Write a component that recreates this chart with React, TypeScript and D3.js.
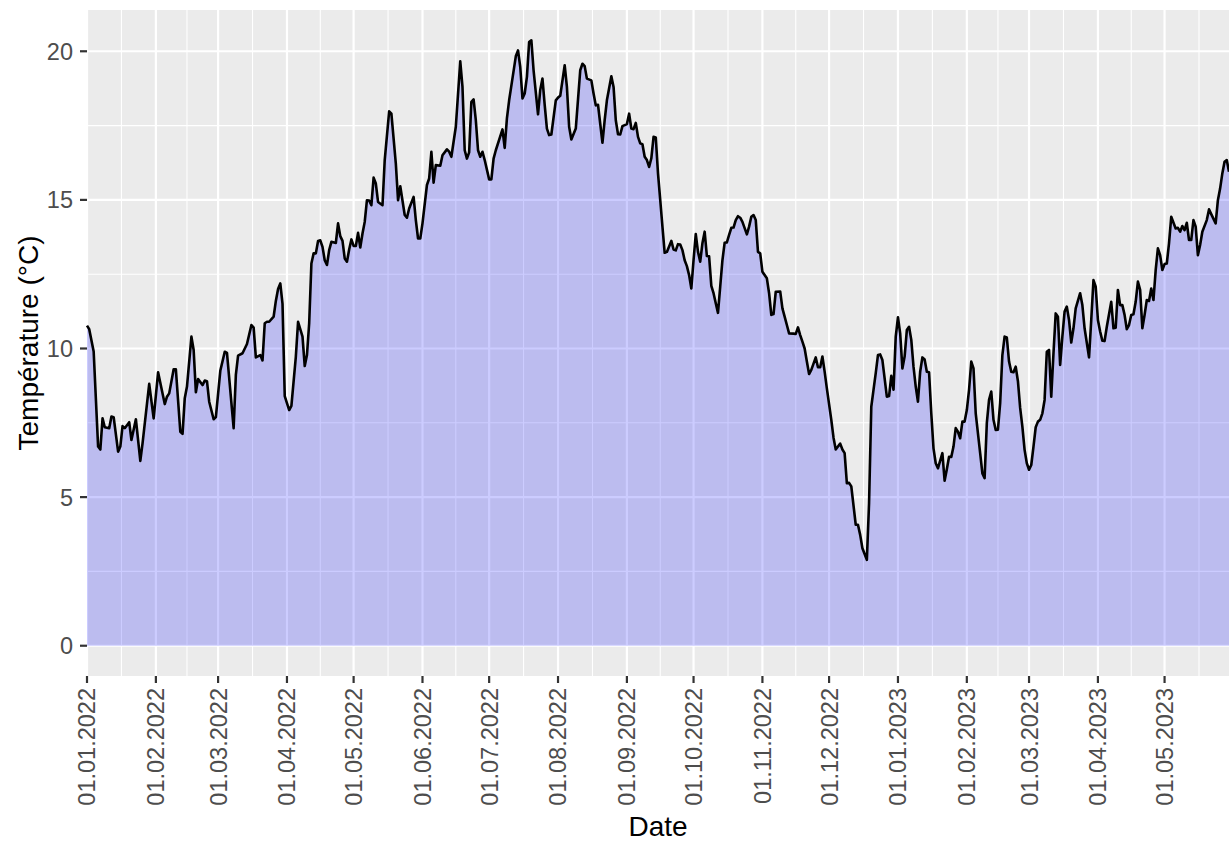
import { useEffect, useRef } from 'react';
import * as d3 from 'd3';

// Daily mean temperature (day index counted from startDate)
const startDate = new Date(2022, 0, 1);
const lastDay = 514;

const dayIndex = [
  0, 1, 3, 5, 6, 7, 8, 10, 11, 12, 14, 15, 16, 17, 19, 20, 22, 24, 25, 28,
  30, 32, 35, 36, 37, 39, 40, 42, 43, 44, 45, 47, 48, 49, 50, 52, 53, 54, 55, 57,
  58, 60, 62, 63, 66, 67, 68, 70, 72, 74, 75, 76, 78, 79, 80, 81, 82, 84, 85, 86,
  87, 88, 89, 91, 92, 94, 95, 97, 98, 99, 100, 101, 102, 103, 104, 105, 106, 107, 108, 109,
  110, 112, 113, 114, 115, 116, 117, 118, 119, 120, 121, 122, 123, 124, 125, 126, 127, 128, 129, 130,
  131, 133, 134, 136, 137, 139, 140, 141, 143, 144, 145, 147, 148, 149, 150, 151, 153, 154, 155, 156,
  157, 159, 160, 162, 163, 164, 166, 168, 169, 170, 171, 172, 173, 174, 175, 176, 177, 178, 179, 181,
  182, 183, 184, 187, 188, 189, 190, 193, 194, 195, 196, 197, 198, 199, 200, 201, 203, 204, 205, 206,
  207, 208, 209, 211, 212, 213, 215, 216, 217, 218, 220, 222, 223, 224, 225, 227, 228, 229, 230, 232,
  233, 234, 236, 237, 238, 239, 240, 241, 243, 244, 245, 246, 247, 248, 249, 250, 251, 252, 253, 254,
  255, 256, 257, 258, 259, 260, 261, 263, 264, 265, 266, 267, 268, 269, 270, 271, 272, 273, 274, 275,
  276, 277, 278, 279, 280, 281, 282, 283, 284, 285, 286, 287, 288, 289, 290, 291, 292, 293, 294, 295,
  297, 298, 299, 300, 301, 302, 303, 304, 306, 307, 308, 309, 310, 312, 313, 314, 315, 316, 318, 319,
  320, 321, 322, 323, 324, 325, 326, 328, 329, 330, 331, 332, 333, 335, 336, 337, 338, 339, 340, 341,
  342, 343, 344, 346, 347, 348, 349, 351, 352, 353, 354, 355, 356, 357, 358, 360, 361, 362, 363, 364,
  365, 366, 367, 368, 369, 370, 371, 372, 373, 374, 375, 376, 377, 378, 379, 380, 381, 382, 383, 385,
  386, 387, 388, 389, 390, 391, 392, 393, 394, 395, 396, 397, 398, 399, 400, 402, 403, 404, 405, 406,
  407, 408, 409, 410, 411, 412, 413, 414, 415, 416, 417, 418, 419, 420, 421, 422, 423, 424, 425, 426,
  427, 428, 429, 430, 431, 432, 433, 434, 435, 436, 437, 438, 439, 440, 441, 442, 443, 444, 445, 447,
  448, 449, 451, 452, 453, 454, 455, 456, 457, 458, 459, 461, 462, 463, 464, 465, 466, 467, 468, 469,
  470, 471, 472, 473, 474, 475, 476, 477, 478, 479, 480, 481, 482, 483, 484, 485, 486, 487, 488, 490,
  491, 492, 493, 494, 495, 496, 497, 498, 499, 500, 501, 502, 504, 505, 506, 508, 509, 510, 511, 512,
  513, 514,
];

const temps = [
  10.77, 10.65, 9.9, 6.7, 6.6, 7.65, 7.35, 7.32, 7.71, 7.69, 6.53, 6.7, 7.39, 7.32, 7.52, 6.92, 7.62, 6.22, 6.81, 8.81,
  7.65, 9.2, 8.13, 8.38, 8.49, 9.3, 9.3, 7.2, 7.13, 8.33, 8.72, 10.4, 9.95, 8.53, 8.97, 8.77, 8.92, 8.9, 8.21, 7.62,
  7.69, 9.25, 9.89, 9.85, 7.32, 9.11, 9.76, 9.84, 10.15, 10.79, 10.7, 9.7, 9.78, 9.6, 10.85, 10.9, 10.9, 11.07, 11.6, 12.0,
  12.19, 11.5, 8.4, 7.93, 8.07, 9.73, 10.9, 10.4, 9.41, 9.78, 10.85, 12.86, 13.2, 13.2, 13.62, 13.64, 13.42, 12.97, 12.81, 13.31,
  13.59, 13.55, 14.21, 13.78, 13.62, 13.03, 12.92, 13.33, 13.67, 13.45, 13.45, 13.89, 13.4, 13.87, 14.26, 14.99, 14.98, 14.82, 15.75, 15.55,
  14.93, 14.82, 16.34, 17.98, 17.9, 16.22, 14.99, 15.46, 14.49, 14.4, 14.71, 15.1, 14.32, 13.7, 13.7, 14.21, 15.5, 15.72, 16.62, 15.58,
  16.17, 16.15, 16.5, 16.7, 16.62, 16.45, 17.46, 19.66, 18.8, 16.67, 16.39, 16.6, 18.3, 18.38, 17.68, 16.67, 16.45, 16.62, 16.34, 15.69,
  15.69, 16.39, 16.67, 17.37, 16.75, 17.74, 18.35, 19.83, 20.03, 19.47, 18.41, 18.58, 19.14, 20.31, 20.37, 19.36, 17.88, 18.7, 19.08, 18.2,
  17.4, 17.18, 17.2, 18.35, 18.44, 18.5, 19.53, 18.8, 17.46, 17.03, 17.4, 19.36, 19.58, 19.5, 19.08, 19.02, 18.58, 18.18, 18.2, 16.92,
  17.68, 18.35, 19.16, 18.8, 17.68, 17.21, 17.2, 17.48, 17.55, 17.9, 17.4, 17.38, 17.59, 17.12, 16.9, 16.87, 16.45, 16.34, 16.11, 16.4,
  17.12, 17.1, 15.89, 15.0, 14.1, 13.22, 13.25, 13.62, 13.33, 13.3, 13.51, 13.5, 13.31, 12.97, 12.77, 12.47, 12.02, 12.97, 13.85, 13.25,
  12.92, 13.54, 13.93, 13.11, 13.1, 12.11, 11.86, 11.52, 11.2, 12.08, 12.97, 13.56, 13.57, 13.82, 14.06, 14.07, 14.32, 14.45, 14.4, 14.26,
  13.84, 14.1, 14.43, 14.49, 14.32, 13.25, 13.2, 12.58, 12.36, 11.86, 11.13, 11.16, 11.91, 11.92, 11.35, 11.07, 10.79, 10.51, 10.5, 10.49,
  10.71, 10.45, 10.23, 10.0, 9.56, 9.14, 9.28, 9.7, 9.37, 9.37, 9.73, 9.22, 8.66, 7.6, 7.0, 6.6, 6.7, 6.8, 6.6, 6.48,
  5.47, 5.48, 5.36, 4.07, 4.07, 3.73, 3.28, 2.89, 4.8, 8.04, 8.61, 9.17, 9.78, 9.8, 9.61, 8.38, 8.4, 9.08, 8.61, 10.4,
  11.05, 10.51, 9.33, 9.73, 10.62, 10.73, 10.29, 9.39, 8.72, 8.21, 9.22, 9.7, 9.63, 9.22, 9.2, 7.82, 6.64, 6.14, 5.97, 6.48,
  5.55, 5.94, 6.36, 6.35, 6.7, 7.32, 7.2, 6.98, 7.54, 7.54, 7.93, 8.61, 9.56, 9.33, 7.82, 6.48, 5.8, 5.64, 7.49, 8.27,
  8.55, 7.6, 7.26, 7.27, 8.16, 9.78, 10.4, 10.37, 9.56, 9.22, 9.2, 9.39, 8.9, 8.0, 7.37, 6.59, 6.14, 5.92, 6.08, 6.7,
  7.35, 7.54, 7.6, 7.82, 8.27, 9.89, 9.95, 8.38, 9.84, 11.18, 11.07, 9.45, 10.4, 11.24, 11.41, 10.96, 10.2, 10.68, 11.35, 11.86,
  11.46, 10.68, 9.7, 10.96, 12.3, 12.08, 10.96, 10.57, 10.26, 10.25, 10.73, 11.57, 10.68, 10.7, 11.97, 11.46, 11.46, 11.13, 10.65, 10.79,
  11.13, 11.15, 11.57, 12.25, 11.97, 10.68, 11.13, 11.63, 11.6, 12.02, 11.63, 12.64, 13.37, 13.14, 12.64, 12.84, 12.86, 13.54, 14.43, 14.04,
  14.06, 13.93, 14.12, 13.98, 14.23, 13.65, 13.65, 14.32, 14.1, 13.14, 13.48, 13.93, 14.32, 14.68, 14.52, 14.21, 14.99, 15.38, 15.89, 16.28,
  16.34, 15.95,
];

const yTicks = [0, 5, 10, 15, 20];
const yMinorTicks = [2.5, 7.5, 12.5, 17.5];
const xTitle = 'Date';
const yTitle = 'Température (°C)';

interface Point {
  date: Date;
  value: number;
}

const WIDTH = 1229;
const HEIGHT = 843;
const FONT = '"Liberation Sans", Arial, Helvetica, sans-serif';

export default function App() {
  const svgRef = useRef<SVGSVGElement>(null);

  useEffect(() => {
    if (!svgRef.current) return;
    const svg = d3.select(svgRef.current);
    svg.selectAll('*').remove();

    const data: Point[] = dayIndex.map((d, i) => ({
      date: d3.timeDay.offset(startDate, d),
      value: temps[i],
    }));

    const panel = { left: 87, right: WIDTH, top: 10, bottom: 676 };

    // ggplot-like 5% expansion on y, none on x
    const maxT = d3.max(temps) || 0;
    const pad = maxT * 0.05;
    const endDate = d3.timeDay.offset(startDate, lastDay);

    const x = d3.scaleTime()
      .domain([startDate, endDate])
      .range([panel.left, panel.right]);

    const y = d3.scaleLinear()
      .domain([-pad, maxT + pad])
      .range([panel.bottom, panel.top]);

    // Panel background
    svg.append('rect')
      .attr('x', panel.left)
      .attr('y', panel.top)
      .attr('width', panel.right - panel.left)
      .attr('height', panel.bottom - panel.top)
      .attr('fill', '#EBEBEB');

    // Breaks
    const majorX = d3.timeMonth.range(startDate, d3.timeDay.offset(endDate, 1));
    const extended = d3.timeMonth.range(startDate, d3.timeMonth.offset(endDate, 2));
    const minorX: Date[] = [];
    for (let i = 0; i < extended.length - 1; i++) {
      const mid = new Date((extended[i].getTime() + extended[i + 1].getTime()) / 2);
      if (mid >= startDate && mid <= endDate) minorX.push(mid);
    }

    const grid = svg.append('g');

    grid.selectAll('.minor-y')
      .data(yMinorTicks)
      .join('line')
      .attr('x1', panel.left)
      .attr('x2', panel.right)
      .attr('y1', d => y(d))
      .attr('y2', d => y(d))
      .attr('stroke', '#fff')
      .attr('stroke-width', 1.1);

    grid.selectAll('.minor-x')
      .data(minorX)
      .join('line')
      .attr('x1', d => x(d))
      .attr('x2', d => x(d))
      .attr('y1', panel.top)
      .attr('y2', panel.bottom)
      .attr('stroke', '#fff')
      .attr('stroke-width', 1.1);

    grid.selectAll('.major-y')
      .data(yTicks)
      .join('line')
      .attr('x1', panel.left)
      .attr('x2', panel.right)
      .attr('y1', d => y(d))
      .attr('y2', d => y(d))
      .attr('stroke', '#fff')
      .attr('stroke-width', 2.2);

    grid.selectAll('.major-x')
      .data(majorX)
      .join('line')
      .attr('x1', d => x(d))
      .attr('x2', d => x(d))
      .attr('y1', panel.top)
      .attr('y2', panel.bottom)
      .attr('stroke', '#fff')
      .attr('stroke-width', 2.2);

    // Area + line
    const area = d3.area<Point>()
      .x(d => x(d.date))
      .y0(y(0))
      .y1(d => y(d.value));

    const line = d3.line<Point>()
      .x(d => x(d.date))
      .y(d => y(d.value));

    svg.append('path')
      .datum(data)
      .attr('fill', 'blue')
      .attr('fill-opacity', 0.2)
      .attr('d', area);

    svg.append('path')
      .datum(data)
      .attr('fill', 'none')
      .attr('stroke', '#000')
      .attr('stroke-width', 2.6)
      .attr('stroke-linejoin', 'round')
      .attr('d', line);

    // Y axis
    const yAxis = svg.append('g');
    yAxis.selectAll('line')
      .data(yTicks)
      .join('line')
      .attr('x1', panel.left - 7)
      .attr('x2', panel.left)
      .attr('y1', d => y(d))
      .attr('y2', d => y(d))
      .attr('stroke', '#333333')
      .attr('stroke-width', 2.2);

    yAxis.selectAll('text')
      .data(yTicks)
      .join('text')
      .attr('x', panel.left - 14)
      .attr('y', d => y(d))
      .attr('dy', '0.36em')
      .attr('text-anchor', 'end')
      .attr('font-family', FONT)
      .attr('font-size', 23.5)
      .attr('fill', '#4D4D4D')
      .text(d => d3.format('d')(d));

    // X axis
    const fmt = d3.timeFormat('%d.%m.%Y');
    const xAxis = svg.append('g');
    xAxis.selectAll('line')
      .data(majorX)
      .join('line')
      .attr('x1', d => x(d))
      .attr('x2', d => x(d))
      .attr('y1', panel.bottom)
      .attr('y2', panel.bottom + 7)
      .attr('stroke', '#333333')
      .attr('stroke-width', 2.2);

    xAxis.selectAll('text')
      .data(majorX)
      .join('text')
      .attr('transform', d => `translate(${x(d)},${panel.bottom + 12}) rotate(-90)`)
      .attr('dy', '0.36em')
      .attr('text-anchor', 'end')
      .attr('font-family', FONT)
      .attr('font-size', 23.5)
      .attr('fill', '#4D4D4D')
      .text(d => fmt(d));

    // Titles
    svg.append('text')
      .attr('x', (panel.left + panel.right) / 2)
      .attr('y', 836)
      .attr('text-anchor', 'middle')
      .attr('font-family', FONT)
      .attr('font-size', 28)
      .attr('fill', '#000')
      .text(xTitle);

    svg.append('text')
      .attr('transform', `translate(37.5,${(panel.top + panel.bottom) / 2}) rotate(-90)`)
      .attr('text-anchor', 'middle')
      .attr('font-family', FONT)
      .attr('font-size', 28)
      .attr('fill', '#000')
      .text(yTitle);
  }, []);

  return (
    <div style={{ position: 'absolute', left: 0, top: 0, background: '#fff' }}>
      <svg ref={svgRef} width={WIDTH} height={HEIGHT} style={{ display: 'block' }} />
    </div>
  );
}
